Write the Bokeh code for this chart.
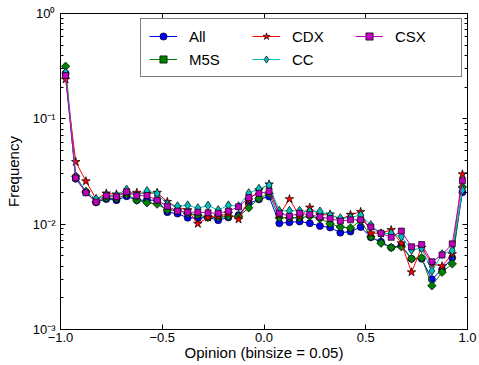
from bokeh.plotting import figure
from bokeh.models import (LinearAxis, LogAxis, FixedTicker, CustomJSTickFormatter,
                          Legend, LegendItem, Range1d, ColumnDataSource)
from bokeh.embed import file_html
from bokeh.resources import INLINE

# Bin centres (binsize = 0.05)
opinion = [-0.975, -0.925, -0.875, -0.825, -0.775, -0.725, -0.675, -0.625, -0.575, -0.525,
           -0.475, -0.425, -0.375, -0.325, -0.275, -0.225, -0.175, -0.125, -0.075, -0.025,
           0.025, 0.075, 0.125, 0.175, 0.225, 0.275, 0.325, 0.375, 0.425, 0.475,
           0.525, 0.575, 0.625, 0.675, 0.725, 0.775, 0.825, 0.875, 0.925, 0.975]

freq_all = [0.270, 0.0270, 0.0201, 0.0162, 0.0173, 0.0169, 0.0184, 0.0169, 0.0169, 0.0169,
            0.0130, 0.0126, 0.0115, 0.0114, 0.0116, 0.0109, 0.0116, 0.0122, 0.0158, 0.0172,
            0.0183, 0.0102, 0.0104, 0.0106, 0.0102, 0.0096, 0.0093, 0.0083, 0.0085, 0.0094,
            0.0075, 0.0068, 0.0060, 0.0063, 0.0047, 0.0047, 0.0030, 0.0037, 0.0048, 0.0201]

freq_m5s = [0.315, 0.0285, 0.0203, 0.0162, 0.0177, 0.0175, 0.0192, 0.0169, 0.0160, 0.0155,
            0.0136, 0.0136, 0.0126, 0.0122, 0.0116, 0.0116, 0.0119, 0.0118, 0.0143, 0.0175,
            0.0196, 0.0115, 0.0115, 0.0115, 0.0119, 0.0113, 0.0101, 0.0094, 0.0092, 0.0108,
            0.0076, 0.0066, 0.0060, 0.0061, 0.0047, 0.0048, 0.0026, 0.0035, 0.0042, 0.0225]

freq_cdx = [0.237, 0.0390, 0.0256, 0.0173, 0.0196, 0.0192, 0.0198, 0.0199, 0.0195, 0.0199,
            0.0163, 0.0145, 0.0136, 0.0101, 0.0116, 0.0119, 0.0126, 0.0111, 0.0169, 0.0210,
            0.0239, 0.0122, 0.0173, 0.0119, 0.0144, 0.0122, 0.0124, 0.0111, 0.0123, 0.0131,
            0.0082, 0.0082, 0.0088, 0.0066, 0.0035, 0.0060, 0.0042, 0.0040, 0.0052, 0.0298]

freq_cc = [0.276, 0.0280, 0.0203, 0.0173, 0.0188, 0.0186, 0.0213, 0.0186, 0.0207, 0.0195,
           0.0155, 0.0148, 0.0151, 0.0142, 0.0150, 0.0136, 0.0151, 0.0148, 0.0197, 0.0217,
           0.0235, 0.0134, 0.0134, 0.0134, 0.0132, 0.0132, 0.0122, 0.0114, 0.0116, 0.0122,
           0.0098, 0.0081, 0.0082, 0.0076, 0.0057, 0.0059, 0.0036, 0.0052, 0.0056, 0.0210]

freq_csx = [0.258, 0.0275, 0.0199, 0.0162, 0.0186, 0.0182, 0.0203, 0.0186, 0.0187, 0.0169,
            0.0148, 0.0133, 0.0130, 0.0130, 0.0128, 0.0127, 0.0133, 0.0146, 0.0179, 0.0196,
            0.0205, 0.0127, 0.0119, 0.0127, 0.0123, 0.0117, 0.0113, 0.0107, 0.0110, 0.0110,
            0.0094, 0.0082, 0.0075, 0.0086, 0.0061, 0.0064, 0.0044, 0.0051, 0.0065, 0.0258]

x_ticks = [-1.0, -0.5, 0.0, 0.5, 1.0]
y_ticks = [1e-3, 1e-2, 1e-1, 1e0]
y_minor = [m * d for d in (1e-3, 1e-2, 1e-1) for m in range(2, 10)]

FONT = "Liberation Sans"

p = figure(width=477, height=363, y_axis_type="log",
           x_range=Range1d(-1.0, 1.0), y_range=Range1d(1e-3, 1.0),
           output_backend="svg", toolbar_location=None,
           min_border_left=60, min_border_top=13, min_border_right=10, min_border_bottom=34)
p.grid.visible = False
p.outline_line_color = "black"
p.outline_line_width = 1
p.background_fill_color = "white"

x_fmt = CustomJSTickFormatter(code="return tick.toFixed(1).replace('-', '\u2212');")
y_fmt = CustomJSTickFormatter(code="""
const e = Math.round(Math.log10(tick));
const sup = {'-': '\u207B', '0': '\u2070', '1': '\u00B9', '2': '\u00B2', '3': '\u00B3'};
return '10' + String(e).split('').map(c => sup[c]).join('');
""")
empty_fmt = CustomJSTickFormatter(code="return '';")


def style_axis(ax):
    ax.axis_line_color = "black"
    ax.major_tick_line_color = "black"
    ax.minor_tick_line_color = "black"
    ax.major_tick_in = 5
    ax.major_tick_out = 0
    ax.minor_tick_in = 3
    ax.minor_tick_out = 0
    ax.major_label_text_font = FONT
    ax.major_label_text_font_size = "13px"
    ax.major_label_text_color = "black"
    ax.axis_label_text_font = FONT
    ax.axis_label_text_font_size = "15px"
    ax.axis_label_text_font_style = "normal"
    ax.axis_label_text_color = "black"


xa = p.below[0]
xa.ticker = FixedTicker(ticks=x_ticks, minor_ticks=[])
xa.formatter = x_fmt
style_axis(xa)
xa.major_label_standoff = 3
xa.axis_label = "Opinion (binsize = 0.05)"
xa.axis_label_standoff = -1

ya = p.left[0]
ya.ticker = FixedTicker(ticks=y_ticks, minor_ticks=y_minor)
ya.formatter = y_fmt
style_axis(ya)
ya.major_label_standoff = 5
ya.axis_label = "Frequency"
ya.axis_label_standoff = 8

top = LinearAxis(ticker=FixedTicker(ticks=x_ticks, minor_ticks=[]), formatter=empty_fmt)
style_axis(top)
top.major_label_standoff = 0
top.major_label_text_font_size = "0px"
p.add_layout(top, "above")

right = LogAxis(ticker=FixedTicker(ticks=y_ticks, minor_ticks=y_minor), formatter=empty_fmt)
style_axis(right)
right.major_label_standoff = 0
right.major_label_text_font_size = "0px"
p.add_layout(right, "right")

series = [
    ("All", freq_all, "#0000FF", "circle", 7, 0.0),
    ("M5S", freq_m5s, "#008000", "square", 6, 0.785398),
    ("CDX", freq_cdx, "#FF0000", "star", 9, 0.0),
    ("CC", freq_cc, "#00BFBF", "diamond", 9, 0.0),
    ("CSX", freq_csx, "#BF00BF", "square", 6, 0.0),
]

items = []
for name, vals, col, mk, sz, ang in series:
    src = ColumnDataSource(dict(x=opinion, y=vals))
    lr = p.line("x", "y", source=src, line_color=col, line_width=1)
    sr = p.scatter("x", "y", source=src, marker=mk, size=sz, angle=ang,
                   fill_color=col, line_color="black", line_width=0.7)
    items.append(LegendItem(label=name, renderers=[lr, sr]))

legend = Legend(items=items, location="top_right", orientation="vertical", nrows=2,
                border_line_color="black", border_line_width=1,
                background_fill_color="white", background_fill_alpha=1.0,
                label_text_font=FONT, label_text_font_size="15px", label_text_color="black",
                glyph_width=28, glyph_height=18, label_standoff=12, label_width=58,
                spacing=5, padding=8, margin=5)
p.add_layout(legend)

open("out.html", "w").write(file_html(p, INLINE))
